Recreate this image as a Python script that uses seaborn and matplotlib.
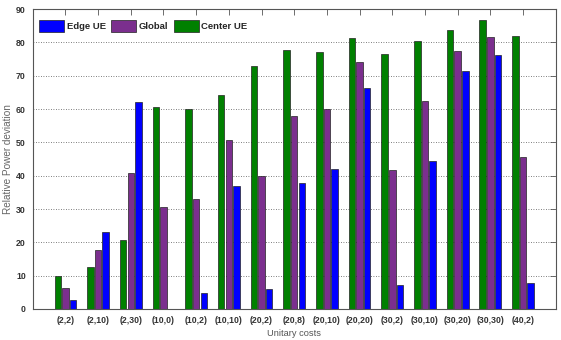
import matplotlib
matplotlib.use("Agg")
import matplotlib.pyplot as plt
from matplotlib import font_manager as fm
import seaborn as sns
import pandas as pd

categories = ["(2,2)", "(2,10)", "(2,30)", "(10,0)", "(10,2)", "(10,10)", "(20,2)",
              "(20,8)", "(20,10)", "(20,20)", "(30,2)", "(30,10)", "(30,20)",
              "(30,30)", "(40,2)"]
center_ue = [10.0, 12.5, 20.7, 60.5, 60.0, 64.2, 72.8, 77.7, 77.2, 81.3, 76.5, 80.3, 83.7, 86.7, 82.0]
global_vals = [6.3, 17.7, 40.8, 30.7, 32.9, 50.7, 40.0, 58.0, 59.9, 74.0, 41.7, 62.5, 77.4, 81.5, 45.7]
edge_ue = [2.7, 23.0, 62.0, 0.0, 4.8, 36.9, 6.1, 37.7, 42.0, 66.3, 7.1, 44.4, 71.5, 76.2, 7.9]
yticks = list(range(0, 91, 10))

series_names = ["Center UE", "Global", "Edge UE"]
palette = {"Center UE": "#008000", "Global": "#7B2F8E", "Edge UE": "#0000FF"}

df = pd.DataFrame({
    "cost": categories * 3,
    "series": ["Center UE"] * len(categories) + ["Global"] * len(categories) + ["Edge UE"] * len(categories),
    "value": center_ue + global_vals + edge_ue,
})

sns.set_style("white")

# pick a narrow face for the tick and legend text if one is available
names = {f.name for f in fm.fontManager.ttflist}
if "Liberation Sans Narrow" in names:
    narrow = ["Liberation Sans Narrow", "DejaVu Sans"]
    narrow_size = 6.8
else:
    narrow = ["Liberation Sans", "DejaVu Sans"]
    narrow_size = 6.3

fig = plt.figure(figsize=(5.61, 3.40), dpi=100)
ax = fig.add_axes([0.0583, 0.0912, 0.9323, 0.882])

sns.barplot(data=df, x="cost", y="value", hue="series", order=categories,
            hue_order=series_names, palette=palette, width=0.7, gap=0.15,
            edgecolor="#222222", linewidth=0.5, saturation=1, ax=ax, legend=True)

ax.set_xlim(-1, len(categories))
ax.set_ylim(0, 90)
ax.set_yticks(yticks)
ax.grid(axis="y", linestyle=(0, (1, 2)), color="#555555", linewidth=0.6)
ax.set_axisbelow(True)

for side in ["left", "bottom", "top", "right"]:
    ax.spines[side].set_visible(True)
    ax.spines[side].set_color("#555555")
    ax.spines[side].set_linewidth(0.8)

ax.tick_params(axis="both", direction="in", length=4, width=0.6, color="#555555",
               top=True, right=True, labelsize=narrow_size, pad=5)
for lab in ax.get_xticklabels() + ax.get_yticklabels():
    lab.set_family(narrow)
    lab.set_fontweight("bold")
    lab.set_color("#333333")

ax.set_xlabel("Unitary costs", fontsize=narrow_size + 0.4, family=narrow,
              color="#555555", labelpad=3)
ax.set_ylabel("Relative Power deviation", fontsize=7.2, family=["Liberation Sans", "DejaVu Sans"],
              color="#666666", labelpad=2)

handles, labels = ax.get_legend_handles_labels()
hmap = dict(zip(labels, handles))
leg_order = ["Edge UE", "Global", "Center UE"]
ax.legend([hmap[k] for k in leg_order], leg_order, loc="upper left", ncol=3,
          frameon=False, handlelength=2.6, handleheight=1.5, handletextpad=0.3,
          columnspacing=0.6, borderaxespad=0.3, bbox_to_anchor=(0.0, 0.985),
          prop={"family": narrow, "weight": "bold", "size": narrow_size + 0.5})

fig.savefig("out.png", dpi=100)
